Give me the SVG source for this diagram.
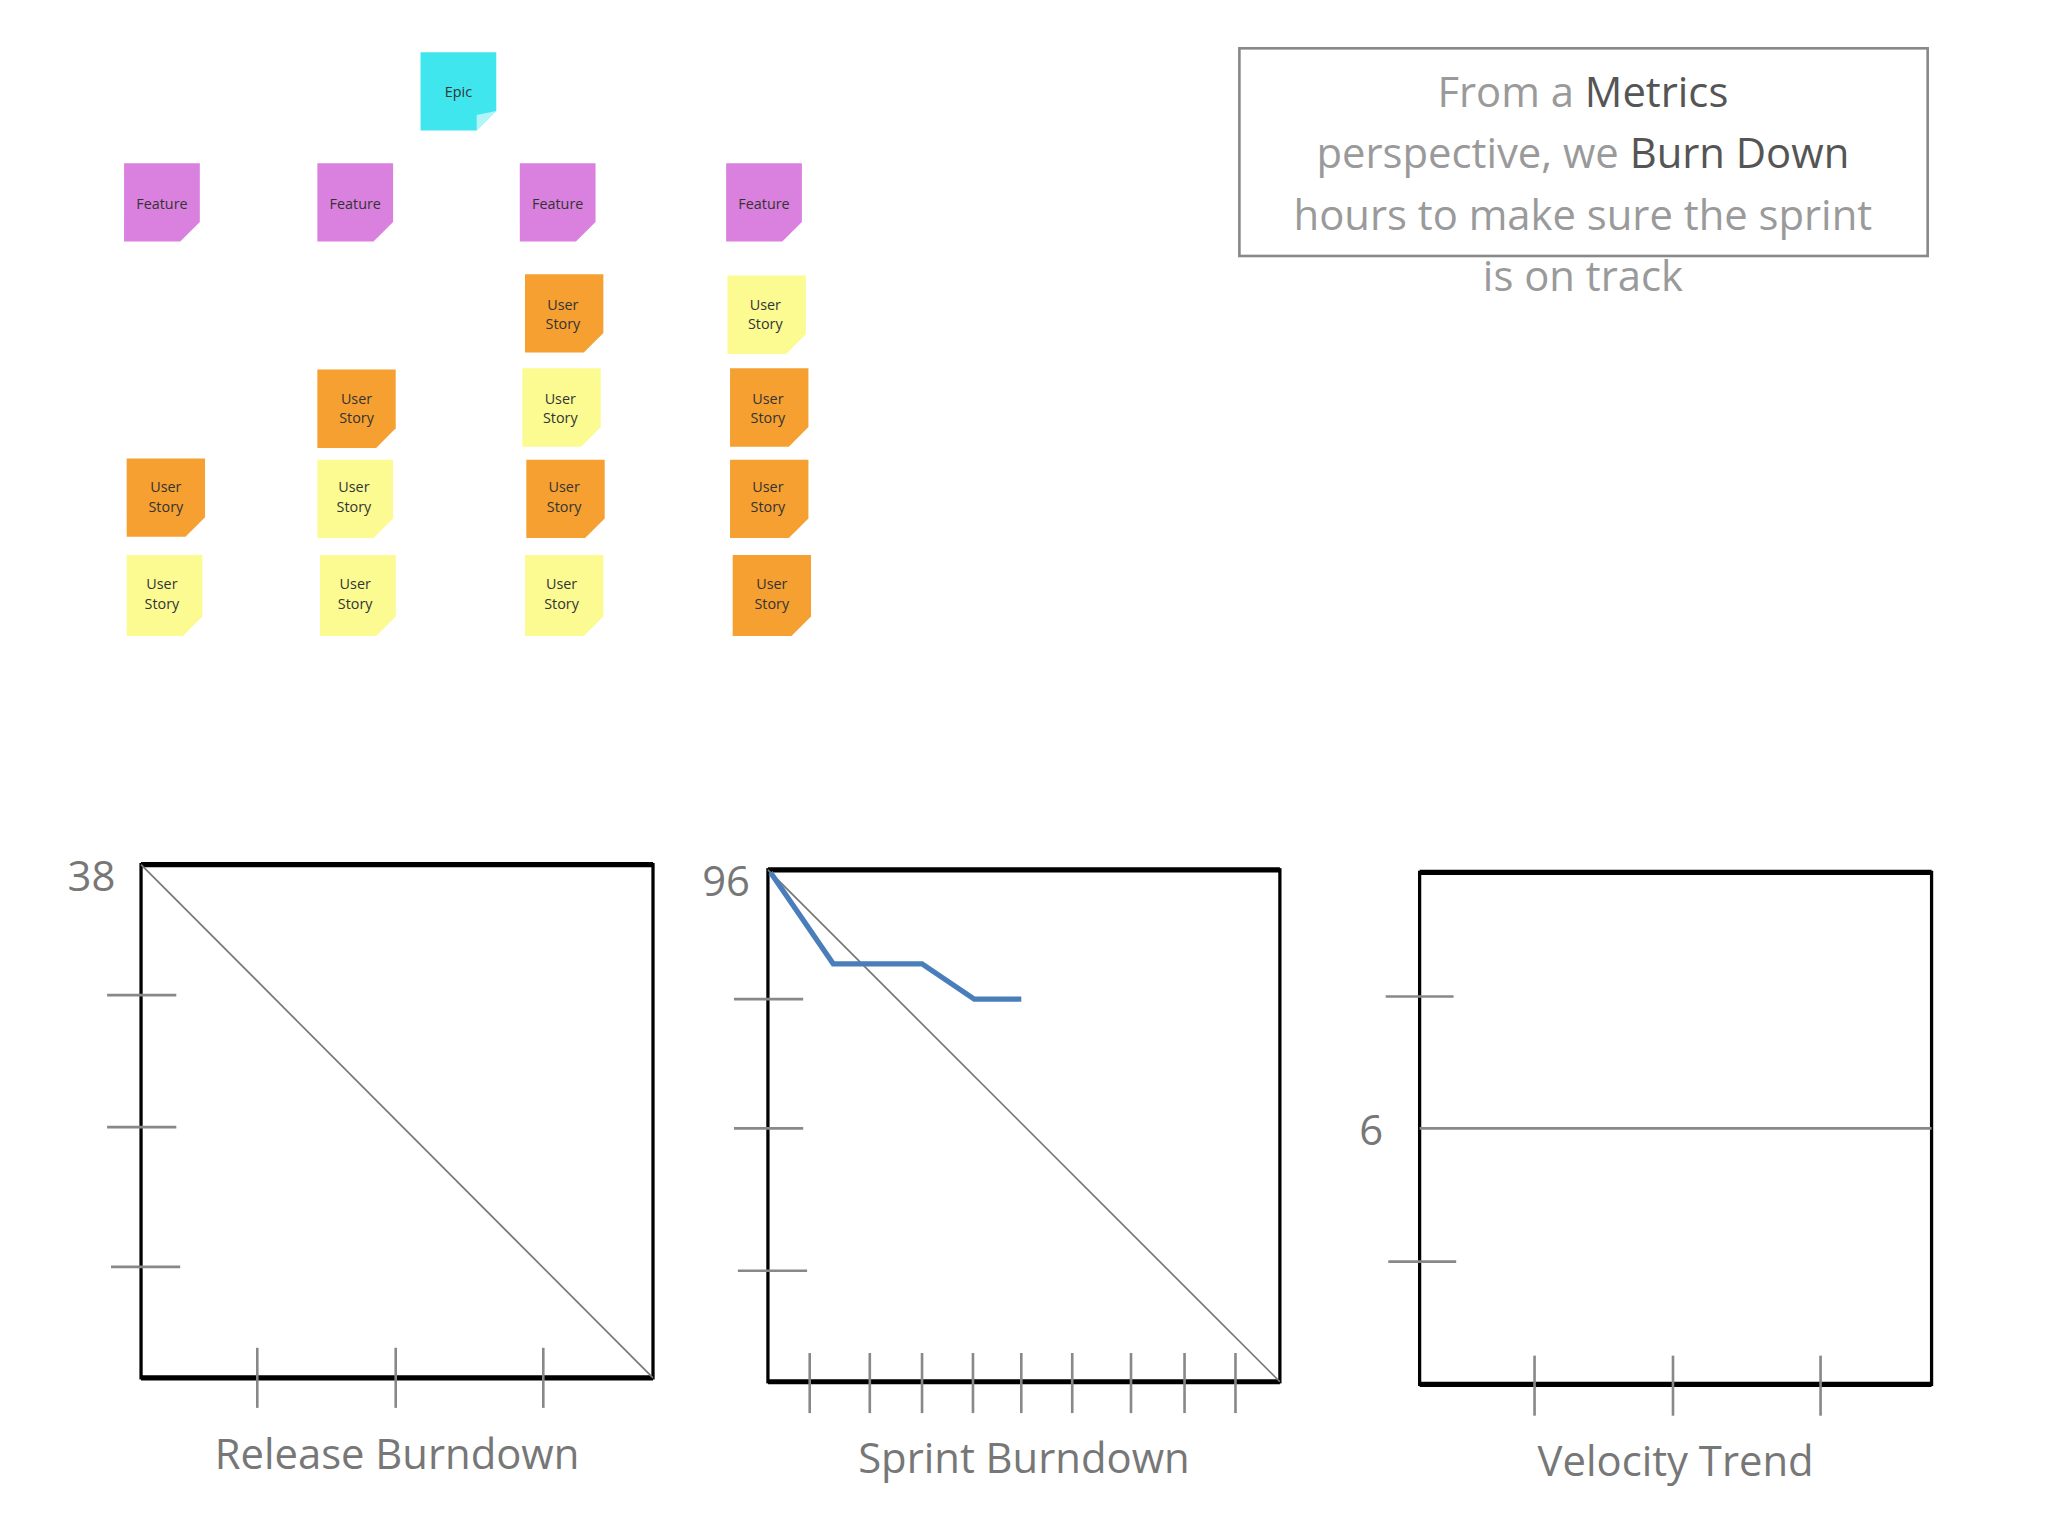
<svg xmlns="http://www.w3.org/2000/svg" width="2048" height="1536" viewBox="0 0 2048 1536">
<defs>
<style>
.note text{font-family:"Open Sans",sans-serif;font-size:11px;fill:#333;text-anchor:middle}
.fold{fill:#fff;opacity:.6}
.ep{fill:#40E6EE}.fe{fill:#DA80DE}.or{fill:#F5A030}.ye{fill:#FBFB92}
.box{fill:none;stroke:#000;stroke-width:2.5}
.edge{stroke:#000;stroke-width:4}
.tick{stroke:#888;stroke-width:2}
.diag{stroke:#777;stroke-width:1.3;fill:none}
.lbl{font-family:"Open Sans",sans-serif;font-size:32px;fill:#777;text-anchor:middle}
.tb{font-family:"Open Sans",sans-serif;font-size:32px;fill:#9a9a9a;text-anchor:middle}
.tb tspan.d{fill:#555}
</style>
</defs>
<rect width="2048" height="1536" fill="#fff"/>
<g transform="scale(1.306)">
<g id="epic" class="note"><path class="ep" d="M322 40h58v45l-15 15h-43z"/><path class="fold" d="M380 85l-15 15v-12z"/><text x="351" y="74">Epic</text></g>
<g id="feature1" class="note"><path class="fe" d="M95 125h58v45l-15 15h-43z"/><text x="124" y="160">Feature</text></g>
<g id="feature2" class="note"><path class="fe" d="M243 125h58v45l-15 15h-43z"/><text x="272" y="160">Feature</text></g>
<g id="feature3" class="note"><path class="fe" d="M398 125h58v45l-15 15h-43z"/><text x="427" y="160">Feature</text></g>
<g id="feature4" class="note"><path class="fe" d="M556 125h58v45l-15 15h-43z"/><text x="585" y="160">Feature</text></g>
<g id="us-c1-1" class="note"><path class="or" d="M97 351h60v45l-15 15h-45z"/><text x="127" y="377">User</text><text x="127" y="392">Story</text></g>
<g id="us-c1-2" class="note"><path class="ye" d="M97 425h58v47l-15 15h-43z"/><text x="124" y="451">User</text><text x="124" y="466">Story</text></g>
<g id="us-c2-1" class="note"><path class="or" d="M243 283h60v45l-15 15h-45z"/><text x="273" y="309">User</text><text x="273" y="324">Story</text></g>
<g id="us-c2-2" class="note"><path class="ye" d="M243 352h58v45l-15 15h-43z"/><text x="271" y="377">User</text><text x="271" y="392">Story</text></g>
<g id="us-c2-3" class="note"><path class="ye" d="M245 425h58v47l-15 15h-43z"/><text x="272" y="451">User</text><text x="272" y="466">Story</text></g>
<g id="us-c3-1" class="note"><path class="or" d="M402 210h60v45l-15 15h-45z"/><text x="431" y="237">User</text><text x="431" y="252">Story</text></g>
<g id="us-c3-2" class="note"><path class="ye" d="M400 282h60v45l-15 15h-45z"/><text x="429" y="309">User</text><text x="429" y="324">Story</text></g>
<g id="us-c3-3" class="note"><path class="or" d="M403 352h60v45l-15 15h-45z"/><text x="432" y="377">User</text><text x="432" y="392">Story</text></g>
<g id="us-c3-4" class="note"><path class="ye" d="M402 425h60v47l-15 15h-45z"/><text x="430" y="451">User</text><text x="430" y="466">Story</text></g>
<g id="us-c4-1" class="note"><path class="ye" d="M557 211h60v45l-15 15h-45z"/><text x="586" y="237">User</text><text x="586" y="252">Story</text></g>
<g id="us-c4-2" class="note"><path class="or" d="M559 282h60v45l-15 15h-45z"/><text x="588" y="309">User</text><text x="588" y="324">Story</text></g>
<g id="us-c4-3" class="note"><path class="or" d="M559 352h60v45l-15 15h-45z"/><text x="588" y="377">User</text><text x="588" y="392">Story</text></g>
<g id="us-c4-4" class="note"><path class="or" d="M561 425h60v47l-15 15h-45z"/><text x="591" y="451">User</text><text x="591" y="466">Story</text></g>

<g id="textbox">
<rect x="949" y="37" width="527" height="159" fill="none" stroke="#888" stroke-width="2"/>
<text class="tb" x="1212" y="82">From a <tspan class="d">Metrics</tspan></text>
<text class="tb" x="1212" y="129">perspective, we <tspan class="d">Burn Down</tspan></text>
<text class="tb" x="1212" y="176">hours to make sure the sprint</text>
<text class="tb" x="1212" y="223">is on track</text>
</g>

<g id="release">
<rect class="box" x="108" y="662" width="392" height="393"/>
<line class="edge" x1="108" y1="662" x2="500" y2="662"/><line class="edge" x1="108" y1="1055" x2="500" y2="1055"/>
<line class="diag" x1="108" y1="662" x2="500" y2="1055"/>
<line class="tick" x1="82" y1="762" x2="135" y2="762"/><line class="tick" x1="82" y1="863" x2="135" y2="863"/><line class="tick" x1="85" y1="970" x2="138" y2="970"/>
<line class="tick" x1="197" y1="1032" x2="197" y2="1078"/><line class="tick" x1="303" y1="1032" x2="303" y2="1078"/><line class="tick" x1="416" y1="1032" x2="416" y2="1078"/>
<text class="lbl" x="70" y="682">38</text>
<text class="lbl" x="304" y="1125">Release Burndown</text>
</g>
<g id="sprint">
<rect class="box" x="588" y="666" width="392" height="392"/>
<line class="edge" x1="588" y1="666" x2="980" y2="666"/><line class="edge" x1="588" y1="1058" x2="980" y2="1058"/>
<line class="diag" x1="588" y1="666" x2="980" y2="1058"/>
<line class="tick" x1="562" y1="765" x2="615" y2="765"/><line class="tick" x1="562" y1="864" x2="615" y2="864"/><line class="tick" x1="565" y1="973" x2="618" y2="973"/>
<g class="tick"><line x1="620" y1="1036" x2="620" y2="1082"/><line x1="666" y1="1036" x2="666" y2="1082"/><line x1="706" y1="1036" x2="706" y2="1082"/><line x1="745" y1="1036" x2="745" y2="1082"/><line x1="782" y1="1036" x2="782" y2="1082"/><line x1="821" y1="1036" x2="821" y2="1082"/><line x1="866" y1="1036" x2="866" y2="1082"/><line x1="907" y1="1036" x2="907" y2="1082"/><line x1="946" y1="1036" x2="946" y2="1082"/></g>
<polyline points="590,668 638,738 706,738 746,765 782,765" fill="none" stroke="#4A7EBB" stroke-width="4"/>
<text class="lbl" x="556" y="686">96</text>
<text class="lbl" x="784" y="1128">Sprint Burndown</text>
</g>
<g id="velocity">
<rect class="box" x="1087" y="668" width="392" height="392"/>
<line class="edge" x1="1087" y1="668" x2="1479" y2="668"/><line class="edge" x1="1087" y1="1060" x2="1479" y2="1060"/>
<line x1="1087" y1="864" x2="1479" y2="864" stroke="#888" stroke-width="2"/>
<line class="tick" x1="1061" y1="763" x2="1113" y2="763"/><line class="tick" x1="1063" y1="966" x2="1115" y2="966"/>
<line class="tick" x1="1175" y1="1038" x2="1175" y2="1084"/><line class="tick" x1="1281" y1="1038" x2="1281" y2="1084"/><line class="tick" x1="1394" y1="1038" x2="1394" y2="1084"/>
<text class="lbl" x="1050" y="877">6</text>
<text class="lbl" x="1283" y="1130">Velocity Trend</text>
</g>
</g>
</svg>
